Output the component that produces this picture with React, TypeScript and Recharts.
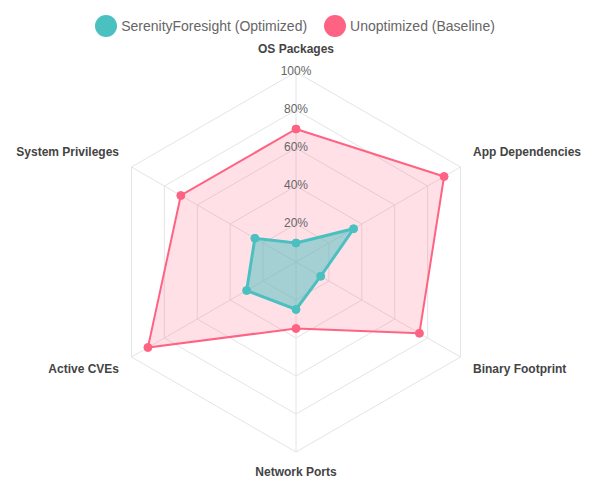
import React from 'react';
import { RadarChart, Radar, PolarGrid, PolarAngleAxis, PolarRadiusAxis } from 'recharts';

const categories = ['OS Packages', 'App Dependencies', 'Binary Footprint', 'Network Ports', 'Active CVEs', 'System Privileges'];
const optimizedValues = [10, 35, 15, 25, 30, 25];
const baselineValues = [70, 90, 75, 35, 90, 70];
const seriesNames = ['SerenityForesight (Optimized)', 'Unoptimized (Baseline)'];
const seriesColors = ['#4BC0C0', '#FF6384'];

const data = categories.map((c, i) => ({ category: c, optimized: optimizedValues[i], baseline: baselineValues[i] }));

const FONT = '"Liberation Sans", Arial, Helvetica, sans-serif';
const CX = 296;
const CY = 262;

const AngleTick = (props: any) => {
  const { x, y, payload } = props;
  const dx = x - CX;
  const dy = y - CY;
  let tx = x;
  let ty = y;
  let anchor: 'start' | 'middle' | 'end' = 'middle';
  if (Math.abs(dx) < 1) {
    ty = dy < 0 ? y - 15 : y + 12;
  } else if (dx > 0) {
    anchor = 'start';
    tx = x + 5.5;
    ty = dy < 0 ? y - 11 : y + 8;
  } else {
    anchor = 'end';
    tx = x - 5.5;
    ty = dy < 0 ? y - 11 : y + 8;
  }
  return (
    <text x={tx} y={ty} textAnchor={anchor} dominantBaseline="central" fontFamily={FONT} fontWeight="bold" fontSize={12} fill="#444">
      {payload.value}
    </text>
  );
};

const RadiusTick = (props: any) => {
  const { x, y, payload } = props;
  if (payload.value === 0) return <g />;
  return (
    <text x={x} y={y - 1} textAnchor="middle" dominantBaseline="central" fontFamily={FONT} fontSize={12} fill="#666">
      {payload.value}%
    </text>
  );
};

export default function App() {
  return (
    <div style={{ position: 'absolute', left: 0, top: 0, width: 594, height: 480, background: '#fff' }}>
      <div
        style={{
          position: 'absolute',
          top: 15,
          left: 0,
          width: 590,
          height: 22,
          display: 'flex',
          justifyContent: 'center',
          alignItems: 'center',
          fontFamily: FONT,
          fontSize: 14,
          color: '#666',
        }}
      >
        {seriesNames.map((n, i) => (
          <div key={n} style={{ display: 'flex', alignItems: 'center', marginLeft: i === 0 ? 0 : 17 }}>
            <span style={{ width: 22, height: 22, borderRadius: 11, background: seriesColors[i], display: 'inline-block', marginRight: 4 }} />
            <span>{n}</span>
          </div>
        ))}
      </div>
      <RadarChart width={594} height={480} data={data} cx={CX} cy={CY} outerRadius={190} margin={{ top: 0, right: 0, bottom: 0, left: 0 }} style={{ position: 'absolute', left: 0, top: 0 }}>
        <PolarGrid gridType="polygon" stroke="#e4e4e4" />
        <PolarAngleAxis dataKey="category" tick={<AngleTick />} tickLine={false} axisLine={false} />
        <PolarRadiusAxis angle={90} domain={[0, 100]} tickCount={6} axisLine={false} tickLine={false} tick={<RadiusTick />} />
        <Radar
          name={seriesNames[1]}
          dataKey="baseline"
          stroke={seriesColors[1]}
          strokeWidth={2}
          fill="rgba(255,99,132,0.2)"
          fillOpacity={1}
          dot={{ r: 4, fill: seriesColors[1], stroke: seriesColors[1], strokeWidth: 1 }}
          isAnimationActive={false}
        />
        <Radar
          name={seriesNames[0]}
          dataKey="optimized"
          stroke={seriesColors[0]}
          strokeWidth={3}
          fill="rgba(75,192,192,0.5)"
          fillOpacity={1}
          dot={{ r: 4, fill: seriesColors[0], stroke: seriesColors[0], strokeWidth: 1 }}
          isAnimationActive={false}
        />
      </RadarChart>
    </div>
  );
}
